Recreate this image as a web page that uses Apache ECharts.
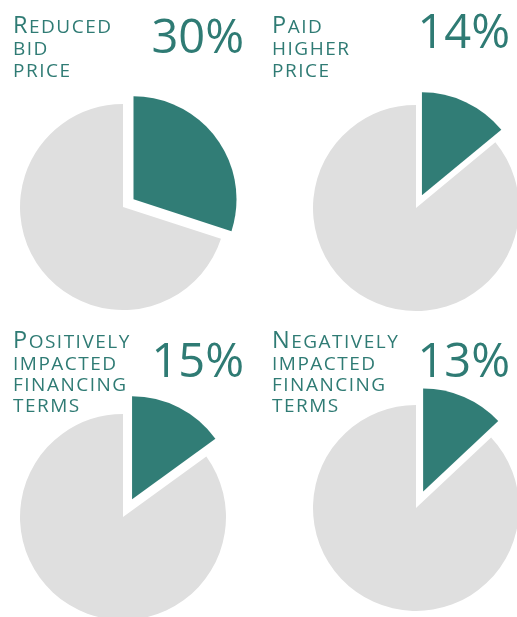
<!DOCTYPE html>
<html>
<head>
<meta charset="utf-8">
<script src="https://cdn.jsdelivr.net/npm/echarts@6/dist/echarts.min.js"></script>
<style>
html,body{margin:0;padding:0;background:#fff;}
#chart{width:517px;height:617px;}
</style>
</head>
<body>
<div id="chart"></div>
<script>
// ---- data ----
const categories = ['Reduced bid price', 'Paid higher price', 'Positively impacted financing terms', 'Negatively impacted financing terms'];
const titleLines = [
  ['Reduced', 'bid', 'price'],
  ['Paid', 'higher', 'price'],
  ['Positively', 'impacted', 'financing', 'terms'],
  ['Negatively', 'impacted', 'financing', 'terms']
];
const shareValues = [30, 14, 15, 13];
const percentLabels = ['30%', '14%', '15%', '13%'];

// ---- layout / style ----
const TEAL = '#317d76';
const TEXT_TEAL = '#2f7b74';
const GRAY = '#dfdfdf';
const FONT = '"Open Sans", "Noto Sans", sans-serif';
const layout = [
  { center: [123, 207], offset: 13, titleX: 13, titleBase: [33.3, 55, 77.3], pctX: 244, pctBase: 53.3 },
  { center: [416, 208], offset: 14, titleX: 272, titleBase: [33.3, 55, 77.3], pctX: 510, pctBase: 48.3 },
  { center: [123, 517], offset: 20, titleX: 13, titleBase: [348.3, 370, 391, 411.7], pctX: 244, pctBase: 376.7 },
  { center: [416, 508], offset: 18, titleX: 272, titleBase: [348.3, 370, 391, 411.7], pctX: 510, pctBase: 376.7 }
];
const RADIUS = 103;
const SM = 19, BIG = 23.5, SP = 1.5;

function smallCapsRich(word, first) {
  const up = word.toUpperCase();
  let s = '';
  for (let i = 0; i < up.length; i++) {
    const last = i === up.length - 1;
    const big = first && i === 0;
    const style = (big ? 'big' : 'sm') + (last ? 'L' : '');
    s += '{' + style + '|' + up[i] + '}';
  }
  return s;
}

const richStyles = {
  big: { fontSize: BIG, fontFamily: FONT, fill: TEXT_TEAL, padding: [0, SP, 0, 0], verticalAlign: 'bottom' },
  bigL: { fontSize: BIG, fontFamily: FONT, fill: TEXT_TEAL, verticalAlign: 'bottom' },
  sm: { fontSize: SM, fontFamily: FONT, fill: TEXT_TEAL, padding: [0, SP, 1, 0], verticalAlign: 'bottom' },
  smL: { fontSize: SM, fontFamily: FONT, fill: TEXT_TEAL, padding: [0, 0, 1, 0], verticalAlign: 'bottom' }
};

const series = [];
const graphics = [];
categories.forEach((name, k) => {
  const L = layout[k];
  series.push({
    type: 'pie',
    name: name,
    center: L.center,
    radius: RADIUS,
    startAngle: 90,
    clockwise: true,
    selectedMode: 'single',
    selectedOffset: L.offset,
    animation: false,
    silent: true,
    label: { show: false },
    labelLine: { show: false },
    emphasis: { disabled: true },
    itemStyle: { borderWidth: 0 },
    data: [
      { name: name, value: shareValues[k], selected: true, itemStyle: { color: TEAL } },
      { name: 'Other', value: 100 - shareValues[k], itemStyle: { color: GRAY } }
    ]
  });
  titleLines[k].forEach((w, i) => {
    graphics.push({
      type: 'text',
      silent: true,
      style: {
        text: smallCapsRich(w, i === 0),
        rich: richStyles,
        x: L.titleX,
        y: L.titleBase[i] + 5.1,
        align: 'left',
        verticalAlign: 'bottom',
        fill: TEXT_TEAL
      }
    });
  });
  graphics.push({
    type: 'text',
    silent: true,
    style: {
      text: percentLabels[k],
      x: L.pctX,
      y: L.pctBase + 10.1,
      align: 'right',
      verticalAlign: 'bottom',
      font: '47px ' + FONT,
      fill: TEXT_TEAL
    }
  });
});

const chart = echarts.init(document.getElementById('chart'), null, { renderer: 'canvas' });
chart.setOption({
  animation: false,
  backgroundColor: '#ffffff',
  series: series,
  graphic: graphics
});
</script>
</body>
</html>
